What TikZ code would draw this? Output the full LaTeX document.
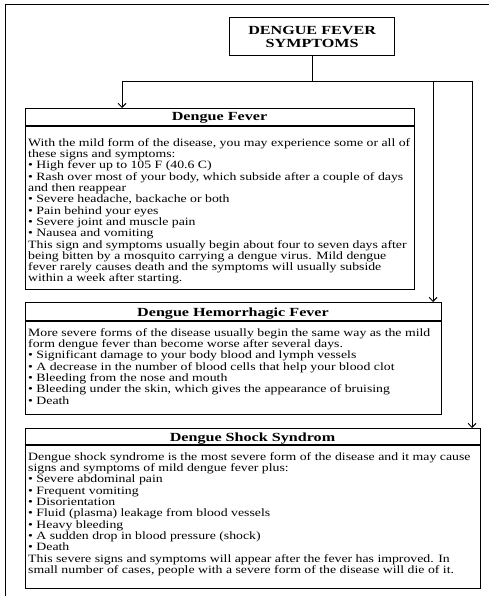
\documentclass[tikz,border=0pt]{standalone}
\usepackage{fontspec}
\setmainfont{Liberation Serif}[FakeStretch=1.3]
\newfontfamily\bodyfont{Liberation Serif}[FakeStretch=1.23]
\usetikzlibrary{arrows.meta}
\begin{document}
\begin{tikzpicture}[x=1pt,y=-1pt,
  panel/.style={draw, line width=1.2pt, inner sep=0pt, anchor=north west},
  headtext/.style={font=\fontsize{12.4}{13}\selectfont\bfseries, inner sep=0pt},
  bodytext/.style={font=\bodyfont\fontsize{11.2}{11.3}\selectfont, align=left, inner sep=0pt, anchor=north west},
  link/.style={line width=0.9pt},
  arrowlink/.style={link, -{Straight Barb[length=4pt,width=8pt]}},
]
\useasboundingbox (0,0) rectangle (489,596);

% outer frame
\draw[line width=0.9pt] (5,596) -- (5,4) -- (489,4);

% title box
\node[panel, minimum width=165pt, minimum height=38pt] (top) at (229,17) {};
\node[headtext, align=center] (toptext) at (top.center) {DENGUE FEVER\\SYMPTOMS};

% Dengue Fever
\node[panel, minimum width=389pt, minimum height=181pt] (df) at (25,108) {};
\draw[line width=1.2pt] ([yshift=-18pt]df.north west) -- ([yshift=-18pt]df.north east);
\node[headtext, anchor=base] (dfhead) at (219.5,121) {Dengue Fever};
\node[bodytext] (dfbody) at (28,138.3) {With the mild form of the disease, you may experience some or all of\\
these signs and symptoms:\\
• High fever up to 105 F (40.6 C)\\
• Rash over most of your body, which subside after a couple of days\\
and then reappear\\
• Severe headache, backache or both\\
• Pain behind your eyes\\
• Severe joint and muscle pain\\
• Nausea and vomiting\\
This sign and symptoms usually begin about four to seven days after\\
being bitten by a mosquito carrying a dengue virus. Mild dengue\\
fever rarely causes death and the symptoms will usually subside\\
within a week after starting.};

% Dengue Hemorrhagic Fever
\node[panel, minimum width=416pt, minimum height=112pt] (dhf) at (25,302) {};
\draw[line width=1.2pt] ([yshift=-19pt]dhf.north west) -- ([yshift=-19pt]dhf.north east);
\node[headtext, anchor=base] (dhfhead) at (233,316) {Dengue Hemorrhagic Fever};
\node[bodytext] (dhfbody) at (28,328.3) {More severe forms of the disease usually begin the same way as the mild\\
form dengue fever than become worse after several days.\\
• Significant damage to your body blood and lymph vessels\\
• A decrease in the number of blood cells that help your blood clot\\
• Bleeding from the nose and mouth\\
• Bleeding under the skin, which gives the appearance of bruising\\
• Death};

% Dengue Shock Syndrom
\node[panel, minimum width=455pt, minimum height=160pt] (dss) at (25,428) {};
\draw[line width=1.2pt] ([yshift=-17pt]dss.north west) -- ([yshift=-17pt]dss.north east);
\node[headtext, anchor=base] (dsshead) at (252.5,441) {Dengue Shock Syndrom};
\node[bodytext] (dssbody) at (28,452.3) {Dengue shock syndrome is the most severe form of the disease and it may cause\\
signs and symptoms of mild dengue fever plus:\\
• Severe abdominal pain\\
• Frequent vomiting\\
• Disorientation\\
• Fluid (plasma) leakage from blood vessels\\
• Heavy bleeding\\
• A sudden drop in blood pressure (shock)\\
• Death\\
This severe signs and symptoms will appear after the fever has improved. In\\
small number of cases, people with a severe form of the disease will die of it.};

% connectors
\coordinate (hl) at (122,81);
\coordinate (hm) at (433,81);
\coordinate (hr) at (472,81);
\draw[link] (top.south) -- (top.south |- hl);
\draw[link] (hl) -- (hr);
\draw[arrowlink] (hl) -- (df.north -| hl);
\draw[arrowlink] (hm) -- (dhf.north -| hm);
\draw[arrowlink] (hr) -- (dss.north -| hr);
\end{tikzpicture}
\end{document}
